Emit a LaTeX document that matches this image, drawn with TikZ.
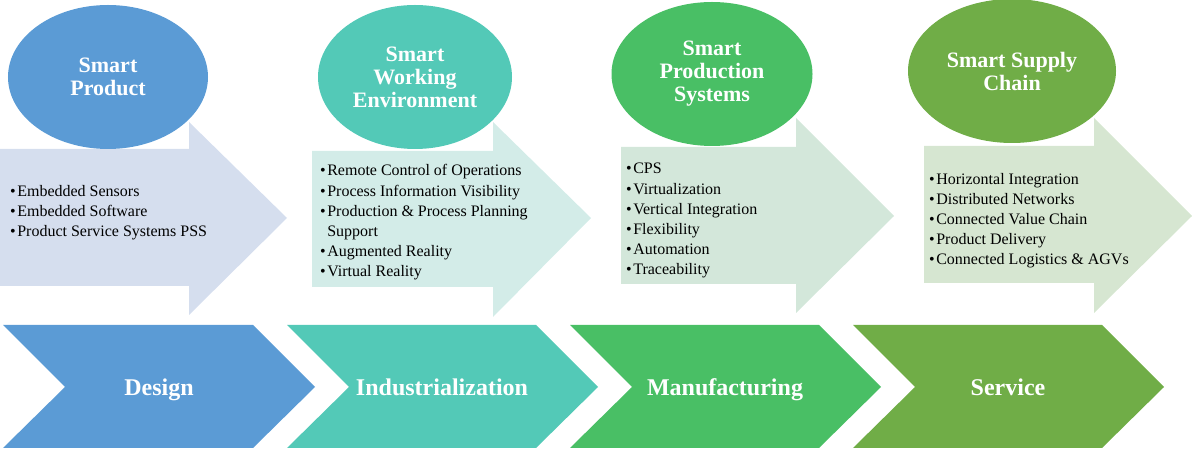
\documentclass[tikz,border=0pt]{standalone}
\usepackage{fontspec}
\setmainfont{Liberation Serif}
\usepackage{xcolor}
\usepackage{tikz}
\usetikzlibrary{shapes.geometric}

\definecolor{designblue}{HTML}{5B9BD5}
\definecolor{designpale}{HTML}{D5DEEE}
\definecolor{industeal}{HTML}{53C9B7}
\definecolor{induspale}{HTML}{D3ECE8}
\definecolor{manugreen}{HTML}{49BF65}
\definecolor{manupale}{HTML}{D3E7DA}
\definecolor{serviceolive}{HTML}{70AD47}
\definecolor{servicepale}{HTML}{D6E6D1}

\newcommand{\bulletitem}{\textbullet\kern1.5bp}

\begin{document}
\begin{tikzpicture}[
        x=1bp, y=-1bp,
        smart/.style={ellipse, inner sep=0pt, minimum height=144bp, text=white, align=center, font=\fontsize{22bp}{23bp}\selectfont\bfseries},
        items/.style={anchor=base west, inner sep=0pt, align=left, font=\fontsize{16bp}{20.2bp}\selectfont},
        stage/.style={anchor=base, inner sep=0pt, text=white, font=\fontsize{24bp}{28bp}\selectfont\bfseries}
    ]
        \useasboundingbox (0,0) rectangle (1192,450);

        % Big arrows
        \fill[designpale] (0,149) -- (189,149) -- (189,122) -- (287,218) -- (189,315) -- (189,286) -- (0,286) -- cycle;
        \fill[induspale] (312,151) -- (493,151) -- (493,122) -- (591,218) -- (493,317) -- (493,287) -- (312,287) -- cycle;
        \fill[manupale] (621,147) -- (796,147) -- (796,118) -- (894,216) -- (796,313) -- (796,284) -- (621,284) -- cycle;
        \fill[servicepale] (924,146) -- (1094,146) -- (1094,118) -- (1192,216) -- (1094,313) -- (1094,283) -- (924,283) -- cycle;

        % Chevrons
        \fill[designblue] (3,325) -- (253,325) -- (315,387) -- (253,448) -- (3,448) -- (65,387) -- cycle;
        \fill[industeal] (287,325) -- (536,325) -- (598,387) -- (536,448) -- (287,448) -- (349,387) -- cycle;
        \fill[manugreen] (570,325) -- (819,325) -- (881,387) -- (819,448) -- (570,448) -- (632,387) -- cycle;
        \fill[serviceolive] (853,325) -- (1102,325) -- (1164,387) -- (1102,448) -- (853,448) -- (915,387) -- cycle;

        % Ellipses
        \node[smart, fill=designblue, minimum width=200bp] (product) at (108,77) {Smart\\Product};
        \node[smart, fill=industeal, minimum width=194bp] (working) at (415,77) {Smart\\Working\\Environment};
        \node[smart, fill=manugreen, minimum width=201bp] (production) at (712,74) {Smart\\Production\\Systems};
        \node[smart, fill=serviceolive, minimum width=208bp] (supply) at (1012,71) {Smart Supply\\Chain};

        % Lists (anchored on the baseline of the last line)
        \node[items] (productlist) at (10,237) {\bulletitem Embedded Sensors\\\bulletitem Embedded Software\\\bulletitem Product Service Systems PSS};
        \node[items] (workinglist) at (320,277) {\bulletitem Remote Control of Operations\\\bulletitem Process Information Visibility\\\bulletitem Production \& Process Planning\\\phantom{\bulletitem}Support\\\bulletitem Augmented Reality\\\bulletitem Virtual Reality};
        \node[items] (productionlist) at (626,275) {\bulletitem CPS\\\bulletitem Virtualization\\\bulletitem Vertical Integration\\\bulletitem Flexibility\\\bulletitem Automation\\\bulletitem Traceability};
        \node[items] (supplylist) at (929,265) {\bulletitem Horizontal Integration\\\bulletitem Distributed Networks\\\bulletitem Connected Value Chain\\\bulletitem Product Delivery\\\bulletitem Connected Logistics \& AGVs};

        % Stages
        \node[stage] (design) at (159,396) {Design};
        \node[stage] (industrial) at (442,396) {Industrialization};
        \node[stage] (manufacturing) at (725,396) {Manufacturing};
        \node[stage] (service) at (1008,396) {Service};
    \end{tikzpicture}
\end{document}
